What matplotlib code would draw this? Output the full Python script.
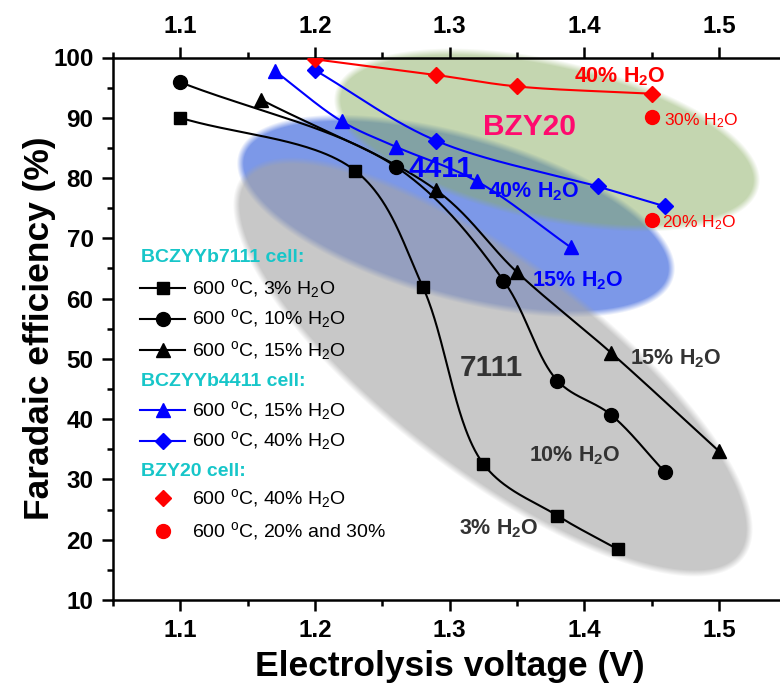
import numpy as np
import matplotlib
matplotlib.use("Agg")
import matplotlib.pyplot as plt
from matplotlib.ticker import MultipleLocator

plt.rcParams['font.family'] = ['Liberation Sans', 'DejaVu Sans']
plt.rcParams['mathtext.fontset'] = 'custom'
plt.rcParams['mathtext.rm'] = 'Liberation Sans'
plt.rcParams['mathtext.bf'] = 'Liberation Sans:bold'
plt.rcParams['mathtext.default'] = 'regular'

# ---------------- data ----------------
v_7111_3 = [1.10, 1.23, 1.28, 1.325, 1.38, 1.425]
fe_7111_3 = [90.0, 81.2, 62.0, 32.6, 24.0, 18.4]
v_7111_10 = [1.10, 1.26, 1.34, 1.38, 1.42, 1.46]
fe_7111_10 = [95.9, 81.9, 63.0, 46.4, 40.7, 31.2]
v_7111_15 = [1.16, 1.29, 1.35, 1.42, 1.50]
fe_7111_15 = [93.0, 78.0, 64.4, 51.0, 34.7]
v_4411_15 = [1.17, 1.22, 1.26, 1.32, 1.39]
fe_4411_15 = [97.8, 89.4, 85.2, 79.5, 68.5]
v_4411_40 = [1.20, 1.29, 1.41, 1.46]
fe_4411_40 = [97.9, 86.2, 78.6, 75.3]
v_bzy_40 = [1.20, 1.29, 1.35, 1.45]
fe_bzy_40 = [99.7, 97.1, 95.2, 94.0]
v_bzy_20_30 = [1.45, 1.45]
fe_bzy_20_30 = [73.0, 90.1]

xticks = [1.1, 1.2, 1.3, 1.4, 1.5]
yticks = [10, 20, 30, 40, 50, 60, 70, 80, 90, 100]

W, H = 780, 689


def catmull_rom(x, y, sx, sy, n=60, alpha=0.5):
    """Centripetal Catmull-Rom curve through the points, built in screen-like
    units (sx, sy = pixels per data unit) and mapped back to data units."""
    P = np.column_stack([np.asarray(x, float) * sx, np.asarray(y, float) * sy])
    P = np.vstack([2 * P[0] - P[1], P, 2 * P[-1] - P[-2]])
    t = np.zeros(len(P))
    for i in range(1, len(P)):
        t[i] = t[i - 1] + np.linalg.norm(P[i] - P[i - 1]) ** alpha
    out = []
    for i in range(1, len(P) - 2):
        p0, p1, p2, p3 = P[i - 1], P[i], P[i + 1], P[i + 2]
        t0, t1, t2, t3 = t[i - 1], t[i], t[i + 1], t[i + 2]
        m1 = (p1 - p0) / (t1 - t0) - (p2 - p0) / (t2 - t0) + (p2 - p1) / (t2 - t1)
        m2 = (p2 - p1) / (t2 - t1) - (p3 - p1) / (t3 - t1) + (p3 - p2) / (t3 - t2)
        m1 = m1 * (t2 - t1)
        m2 = m2 * (t2 - t1)
        s = np.linspace(0, 1, n)[:, None]
        seg = ((2 * s**3 - 3 * s**2 + 1) * p1 + (s**3 - 2 * s**2 + s) * m1
               + (-2 * s**3 + 3 * s**2) * p2 + (s**3 - s**2) * m2)
        out.append(seg if i == 1 else seg[1:])
    C = np.vstack(out)
    return C[:, 0] / sx, C[:, 1] / sy


def ellipse_alpha(cx, cy, a, b, ang, soft=7.0):
    yy, xx = np.mgrid[0:H, 0:W] + 0.5
    t = np.radians(ang)
    dx, dy = xx - cx, yy - cy
    u = dx * np.cos(t) + dy * np.sin(t)
    v = -dx * np.sin(t) + dy * np.cos(t)
    r = np.sqrt((u / a) ** 2 + (v / b) ** 2) + 1e-9
    g = np.sqrt(u**2 / a**4 + v**2 / b**4) / r + 1e-9
    dist = (1 - r) / g
    return np.clip(0.5 + dist / soft, 0, 1)


fig = plt.figure(figsize=(W / 100, H / 100), dpi=100)
L, R, T, B = 113, 786.2, 57.5, 600
ax = fig.add_axes([L / W, 1 - B / H, (R - L) / W, (B - T) / H])
ax.patch.set_visible(False)

# background highlight ellipses (image-pixel geometry)
img = np.ones((H, W, 3)) * 255.0
blue = np.array([124, 152, 232.0])
gray = np.array([165, 165, 165.0])
green = np.array([137, 173, 97.0])
al = ellipse_alpha(456, 216, 223, 80, 15.8)[..., None]
img = img * (1 - al) + blue * al
al = 0.61 * ellipse_alpha(493, 367, 312, 105, 37.2)[..., None]
img = img * (1 - al) + gray * al
al = 0.5 * ellipse_alpha(547, 140, 214, 77, 12.5)[..., None]
img = img * (1 - al) + green * al
fig.figimage(img.astype(np.uint8), xo=0, yo=0, origin='upper', zorder=-1)

# screen scale (pixels per data unit) for the curve construction
SX = (R - L) / 0.5
SY = (B - T) / 90.0

lw = 1.5
series = [
    (v_7111_3, fe_7111_3, 'k', 's', 8.5),
    (v_7111_10, fe_7111_10, 'k', 'o', 10),
    (v_7111_15, fe_7111_15, 'k', '^', 10.5),
    (v_4411_15, fe_4411_15, '#0000ff', '^', 10.5),
    (v_4411_40, fe_4411_40, '#0000ff', 'D', 8.5),
    (v_bzy_40, fe_bzy_40, '#ff0000', 'D', 8.5),
]
for xv, yv, c, mk, ms in series:
    xs, ys = catmull_rom(xv, yv, SX, SY)
    ax.plot(xs, ys, color=c, lw=lw, zorder=3)
    ax.plot(xv, yv, ls='none', marker=mk, ms=ms, color=c, mec=c, zorder=4)
ax.plot(v_bzy_20_30, fe_bzy_20_30, ls='none', marker='o', ms=10, color='#ff0000', zorder=4)

ax.set_xlim(1.05, 1.55)
ax.set_ylim(10, 100)
ax.set_xticks(xticks)
ax.set_xticklabels([f"{t:.1f}" for t in xticks])
ax.set_yticks(yticks)
ax.xaxis.set_minor_locator(MultipleLocator(0.05))
ax.yaxis.set_minor_locator(MultipleLocator(5))
ax.tick_params(which='both', direction='out', top=True, right=False,
               labeltop=True, width=1.8, labelsize=17.5, pad=6)
ax.tick_params(which='major', length=8)
ax.tick_params(which='minor', length=4.5)
for t in ax.xaxis.get_major_ticks() + ax.yaxis.get_major_ticks():
    t.label1.set_fontweight('bold')
    t.label2.set_fontweight('bold')
for s in ['left', 'bottom', 'top']:
    ax.spines[s].set_linewidth(1.8)
ax.spines['right'].set_visible(False)

ax.set_xlabel('Electrolysis voltage (V)', fontsize=25.5, fontweight='bold')
ax.xaxis.set_label_coords(0.5, -0.092)
ax.set_ylabel('Faradaic efficiency (%)', fontsize=25.5, fontweight='bold')
ax.yaxis.set_label_coords(-0.084, 0.5)

# annotations
gtxt = '#333333'
ann = [
    (1.426, 96.8, '40% H$_2$O', '#ff0000', 15.5, 'bold'),
    (1.359, 88.5, 'BZY20', '#ff0a6e', 21.5, 'bold'),
    (1.2935, 81.5, '4411', '#0000ff', 21.5, 'bold'),
    (1.3626, 77.8, '40% H$_2$O', '#0000ff', 15.5, 'bold'),
    (1.3953, 63.0, '15% H$_2$O', '#0000ff', 15.5, 'bold'),
    (1.468, 50.0, '15% H$_2$O', gtxt, 15.5, 'bold'),
    (1.3312, 48.5, '7111', gtxt, 21.5, 'bold'),
    (1.3927, 34.0, '10% H$_2$O', gtxt, 15.5, 'bold'),
    (1.3366, 21.8, '3% H$_2$O', gtxt, 15.5, 'bold'),
]
for x, y, s, c, fs, fw in ann:
    ax.text(x, y, s, color=c, fontsize=fs, fontweight=fw, ha='center', va='center', zorder=5)
ax.text(1.4592, 89.6, '30% H$_2$O', color='#ff0000', fontsize=12.5, ha='left', va='center', zorder=5)
ax.text(1.4575, 72.6, '20% H$_2$O', color='#ff0000', fontsize=12.5, ha='left', va='center', zorder=5)


# custom legend (pixel layout converted to axes fraction)
def fx(px):
    return (px - L) / (R - L)


def fy(py):
    return (B - py) / (B - T)


cyan = '#17c6c9'
hdr = [(258, 'BCZYYb7111 cell:'), (381, 'BCZYYb4411 cell:'), (472, 'BZY20 cell:')]
for py, s in hdr:
    ax.text(fx(140.5), fy(py), s, transform=ax.transAxes, color=cyan, fontsize=14,
            fontweight='bold', ha='left', va='center')
entries = [
    (288, 'k', 's', 8.5, True, '600 $^o$C, 3% H$_2$O'),
    (319, 'k', 'o', 10, True, '600 $^o$C, 10% H$_2$O'),
    (350, 'k', '^', 10.5, True, '600 $^o$C, 15% H$_2$O'),
    (410, '#0000ff', '^', 10.5, True, '600 $^o$C, 15% H$_2$O'),
    (441, '#0000ff', 'D', 8.5, True, '600 $^o$C, 40% H$_2$O'),
    (498, '#ff0000', 'D', 8.5, False, '600 $^o$C, 40% H$_2$O'),
    (531, '#ff0000', 'o', 10, False, '600 $^o$C, 20% and 30%'),
]
for py, c, mk, ms, line, s in entries:
    if line:
        ax.plot([fx(140), fx(185)], [fy(py), fy(py)], color=c, lw=lw,
                transform=ax.transAxes, clip_on=False)
    ax.plot([fx(162.5)], [fy(py)], ls='none', marker=mk, ms=ms, color=c,
            transform=ax.transAxes, clip_on=False)
    ax.text(fx(192), fy(py), s, transform=ax.transAxes, fontsize=14,
            ha='left', va='center', color='black')

fig.savefig('out.png', dpi=100)
